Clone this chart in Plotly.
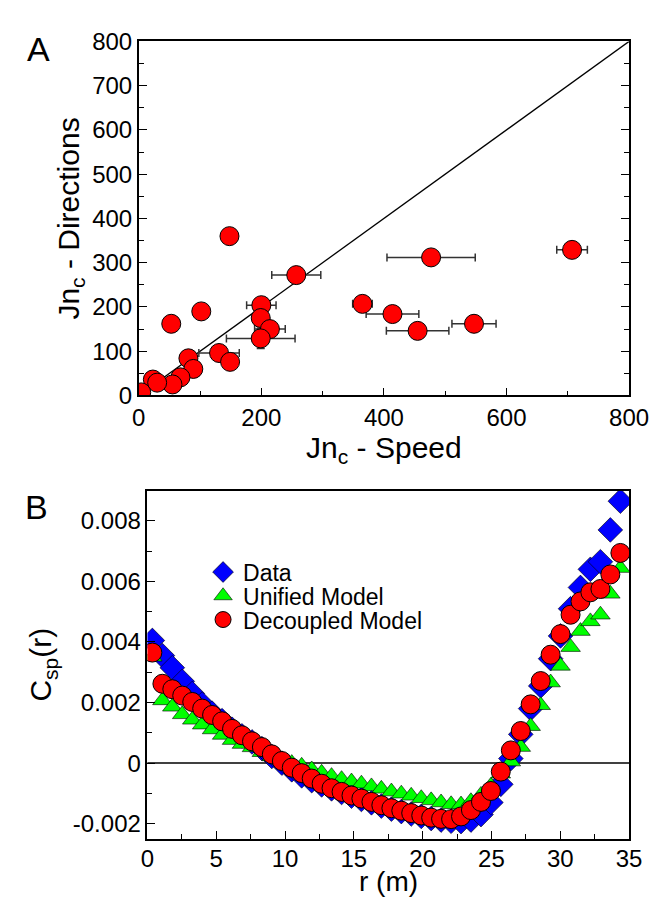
import plotly.graph_objects as go

# ---------------- Panel A data ----------------
jn_speed = [148, 257, 200, 199, 214, 199, 53, 102, 131, 149, 81, 89, 68, 55, 23, 30, 4,
            477, 707, 365, 414, 455, 547]
jn_directions = [360, 272, 204, 175, 150, 129, 162, 190, 96, 76, 84, 60, 41, 25, 36, 29, 7,
                 312, 329, 207, 184, 146, 162]
jn_speed_err = [0, 40, 24, 0, 25, 56, 0, 0, 33, 0, 0, 0, 0, 0, 0, 0, 0,
                72, 25, 16, 43, 51, 36]
jn_dir_err = [0, 0, 0, 0, 0, 23, 0, 0, 0, 0, 0, 0, 0, 0, 0, 0, 0,
              0, 0, 0, 0, 0, 0]
diag_x = [0, 800]
diag_y = [0, 800]

# ---------------- Panel B data ----------------
r_m = [0.36, 1.09, 1.81, 2.53, 3.26, 3.98, 4.70, 5.43, 6.15, 6.87, 7.60, 8.32,
       9.04, 9.77, 10.49, 11.21, 11.94, 12.66, 13.38, 14.11, 14.83, 15.55, 16.28, 17.00,
       17.73, 18.45, 19.17, 19.90, 20.62, 21.34, 22.07, 22.79, 23.51, 24.24, 24.96, 25.68,
       26.41, 27.13, 27.85, 28.58, 29.30, 30.02, 30.75, 31.47, 32.19, 32.92, 33.64, 34.37]
csp_data = [0.00405, 0.00355, 0.00315, 0.00270, 0.00230, 0.00195, 0.00165, 0.00140,
            0.00112, 0.00090, 0.00070, 0.00048, 0.00022, 0.00000, -0.00022, -0.00042,
            -0.00058, -0.00072, -0.00085, -0.00097, -0.00109, -0.00120, -0.00131, -0.00142,
            -0.00152, -0.00160, -0.00168, -0.00176, -0.00183, -0.00188, -0.00192, -0.00193,
            -0.00188, -0.00170, -0.00130, -0.00070, 0.00015, 0.00095, 0.00180, 0.00255,
            0.00345, 0.00420, 0.00510, 0.00580, 0.00640, 0.00665, 0.00770, 0.00865]
csp_unified = [0.00351, 0.00207, 0.00186, 0.00161, 0.00143, 0.00127, 0.00111, 0.00093,
               0.00076, 0.00063, 0.00052, 0.00036, 0.00022, 0.00010, 0.00000, -0.00009,
               -0.00021, -0.00032, -0.00043, -0.00053, -0.00061, -0.00068, -0.00077, -0.00085,
               -0.00094, -0.00101, -0.00108, -0.00116, -0.00123, -0.00130, -0.00136, -0.00137,
               -0.00126, -0.00105, -0.00075, -0.00035, 0.00005, 0.00053, 0.00122, 0.00191,
               0.00266, 0.00321, 0.00383, 0.00436, 0.00468, 0.00490, 0.00559, 0.00644]
csp_decoupled = [0.00365, 0.00262, 0.00244, 0.00223, 0.00202, 0.00180, 0.00159, 0.00138,
                 0.00113, 0.00092, 0.00072, 0.00053, 0.00029, 0.00007, -0.00015, -0.00033,
                 -0.00051, -0.00068, -0.00083, -0.00095, -0.00107, -0.00117, -0.00128, -0.00139,
                 -0.00149, -0.00157, -0.00165, -0.00173, -0.00180, -0.00184, -0.00185, -0.00176,
                 -0.00155, -0.00128, -0.00092, -0.00028, 0.00042, 0.00106, 0.00194, 0.00271,
                 0.00358, 0.00426, 0.00490, 0.00534, 0.00564, 0.00575, 0.00623, 0.00694]

# tick labels
a_xticks = [0, 200, 400, 600, 800]
a_yticks = [0, 100, 200, 300, 400, 500, 600, 700, 800]
b_xticks = [0, 5, 10, 15, 20, 25, 30, 35]
b_yticks = [-0.002, 0, 0.002, 0.004, 0.006, 0.008]
b_yticktext = ["-0.002", "0", "0.002", "0.004", "0.006", "0.008"]

FONT = "Liberation Sans, Arial, Helvetica, sans-serif"
W, H = 666, 903


def px_x(p):
    """pixel from left -> paper fraction"""
    return p / W


def px_y(p):
    """pixel from top -> paper fraction"""
    return 1 - p / H


fig = go.Figure()

# Panel A
fig.add_trace(go.Scatter(x=diag_x, y=diag_y, mode="lines", line=dict(color="black", width=1.3),
                         xaxis="x", yaxis="y", showlegend=False, hoverinfo="skip"))
fig.add_trace(go.Scatter(
    x=jn_speed, y=jn_directions, mode="markers", xaxis="x", yaxis="y", showlegend=False,
    marker=dict(symbol="circle", size=19, color="#ff0000", line=dict(color="black", width=1)),
    error_x=dict(type="data", array=jn_speed_err, color="#333333", thickness=1.5, width=4),
    error_y=dict(type="data", array=jn_dir_err, color="#333333", thickness=1.5, width=4),
))

# Panel B
fig.add_trace(go.Scatter(
    x=r_m, y=csp_data, mode="markers", name="Data", xaxis="x2", yaxis="y2", legend="legend",
    marker=dict(symbol="diamond", size=19, color="#0000ff", line=dict(color="black", width=0.6)),
))
fig.add_trace(go.Scatter(
    x=r_m, y=csp_unified, mode="markers", name="Unified Model", xaxis="x2", yaxis="y2",
    legend="legend2",
    marker=dict(symbol="triangle-up", size=17, color="#00ff00", line=dict(color="black", width=0.6)),
))
fig.add_trace(go.Scatter(
    x=r_m, y=csp_decoupled, mode="markers", name="Decoupled Model", xaxis="x2", yaxis="y2",
    legend="legend3",
    marker=dict(symbol="circle", size=19, color="#ff0000", line=dict(color="black", width=1)),
))

tickfont = dict(family=FONT, size=24, color="black")
titlefont = dict(family=FONT, size=30, color="black")

axis_common = dict(showline=True, linecolor="black", linewidth=1.5, showgrid=False,
                   ticks="inside", ticklen=8, tickwidth=1.3, tickcolor="black",
                   tickfont=tickfont, zeroline=False, ticklabeloverflow="allow")

legend_common = dict(font=dict(family=FONT, size=23, color="black"), bgcolor="rgba(0,0,0,0)",
                     borderwidth=0, xanchor="left", yanchor="middle", itemsizing="trace")

LEG_X = px_x(196)

fig.update_layout(
    width=W, height=H, margin=dict(l=0, r=0, t=0, b=0),
    paper_bgcolor="white", plot_bgcolor="white",
    xaxis=dict(**axis_common, domain=[px_x(129), px_x(640)], range=[0, 800],
               tickvals=a_xticks, ticktext=[str(v) for v in a_xticks],
               minor=dict(dtick=100, ticks="inside", ticklen=5, tickcolor="black"),
               mirror=True, anchor="y",
               title=dict(text="Jn<sub>c</sub> - Speed", font=titlefont, standoff=4)),
    yaxis=dict(**axis_common, domain=[px_y(385), px_y(20)], range=[0, 800],
               tickvals=a_yticks, ticktext=[str(v) for v in a_yticks],
               minor=dict(dtick=50, ticks="inside", ticklen=5, tickcolor="black"),
               mirror="ticks", anchor="x",
               title=dict(text="Jn<sub>c</sub> - Directions", font=titlefont, standoff=4)),
    xaxis2=dict(**axis_common, domain=[px_x(138), px_x(640)], range=[0, 35],
                tickvals=b_xticks, ticktext=[str(v) for v in b_xticks],
                minor=dict(dtick=2.5, ticks="inside", ticklen=5, tickcolor="black"),
                mirror=True, anchor="y2", ticklabelstandoff=-2),
    yaxis2=dict(**axis_common, domain=[px_y(842), px_y(483)], range=[-0.0025, 0.009],
                tickvals=b_yticks, ticktext=b_yticktext,
                minor=dict(dtick=0.001, ticks="inside", ticklen=5, tickcolor="black"),
                mirror=True, anchor="x2",
                title=dict(text="C<sub>sp</sub>(r)", font=titlefont, standoff=12)),
    legend=dict(**legend_common, x=LEG_X, y=px_y(567)),
    legend2=dict(**legend_common, x=LEG_X, y=px_y(591.5)),
    legend3=dict(**legend_common, x=LEG_X, y=px_y(616)),
    annotations=[
        dict(text="A", x=px_x(10), y=px_y(6), xref="paper", yref="paper", xanchor="left",
             yanchor="top", showarrow=False, font=dict(family=FONT, size=34, color="black")),
        dict(text="B", x=px_x(8), y=px_y(478), xref="paper", yref="paper", xanchor="left",
             yanchor="top", showarrow=False, font=dict(family=FONT, size=34, color="black")),
        # x-axis title of panel B, kept as real text just above the bottom edge
        dict(text="r (m)", x=0.5, y=0, xref="x2 domain", yref="paper", xanchor="center",
             yanchor="bottom", showarrow=False, borderpad=0,
             font=dict(family=FONT, size=28, color="black")),
    ],
    shapes=[
        dict(type="line", xref="x2 domain", yref="y2", x0=0, x1=1, y0=0, y1=0,
             line=dict(color="black", width=1.5), layer="below"),
    ],
)

fig.write_html("out.html")
